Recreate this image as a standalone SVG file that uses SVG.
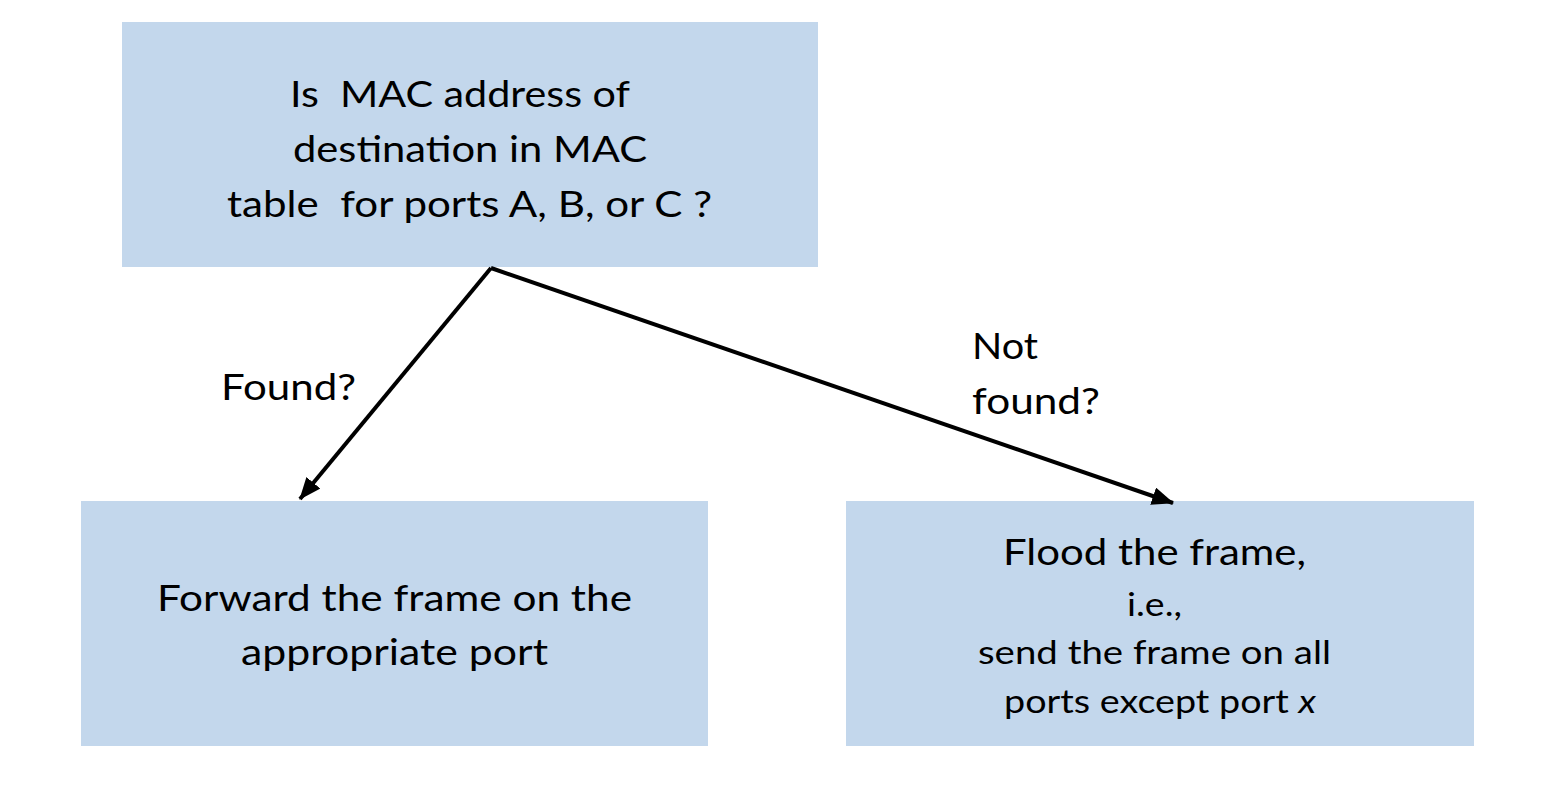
<svg xmlns="http://www.w3.org/2000/svg" width="1556" height="788" viewBox="0 0 1556 788">
<style>
.box{fill:#C3D7EC;stroke:none}
.t{font-family:Lato,"Liberation Sans",sans-serif;font-size:37px;fill:#000}
.s{font-size:33px}
.conn{stroke:#000;stroke-width:4;fill:none}
</style>
<defs>
<marker id="ah" markerUnits="userSpaceOnUse" markerWidth="22" markerHeight="18" viewBox="0 0 22 18" refX="21" refY="9" orient="auto">
<path d="M0,0 L22,9 L0,18 Z" fill="#000"/>
</marker>
</defs>
<rect width="1556" height="788" fill="#fff"/>
<g id="q">
<rect class="box" x="122" y="22" width="696" height="245"/>
<text class="t" x="290" y="107" textLength="340" lengthAdjust="spacingAndGlyphs" xml:space="preserve">Is  MAC address of</text>
<text class="t" x="293" y="162" textLength="354" lengthAdjust="spacingAndGlyphs">destination in MAC</text>
<text class="t" x="227" y="217" textLength="485" lengthAdjust="spacingAndGlyphs" xml:space="preserve">table  for ports A, B, or C ?</text>
</g>
<g id="fwd">
<rect class="box" x="81" y="501" width="627" height="245"/>
<text class="t" x="157" y="611" textLength="475" lengthAdjust="spacingAndGlyphs">Forward the frame on the</text>
<text class="t" x="241" y="665" textLength="307" lengthAdjust="spacingAndGlyphs">appropriate port</text>
</g>
<g id="flood">
<rect class="box" x="846" y="501" width="628" height="245"/>
<text class="t" x="1003" y="565" textLength="303" lengthAdjust="spacingAndGlyphs">Flood the frame,</text>
<text class="t s" x="1127" y="616" textLength="55" lengthAdjust="spacingAndGlyphs">i.e.,</text>
<text class="t s" x="978" y="664" textLength="353" lengthAdjust="spacingAndGlyphs">send the frame on all</text>
<text class="t s" x="1004" y="713" textLength="312" lengthAdjust="spacingAndGlyphs">ports except port <tspan font-style="italic">x</tspan></text>
</g>
<g id="connectors">
<line class="conn" x1="491" y1="268" x2="300" y2="499" marker-end="url(#ah)"/>
<line class="conn" x1="491" y1="268" x2="1173" y2="503" marker-end="url(#ah)"/>
<text class="t" x="221" y="400" textLength="135" lengthAdjust="spacingAndGlyphs">Found?</text>
<text class="t" x="972" y="359" textLength="66" lengthAdjust="spacingAndGlyphs">Not</text>
<text class="t" x="972" y="414" textLength="128" lengthAdjust="spacingAndGlyphs">found?</text>
</g>
</svg>
